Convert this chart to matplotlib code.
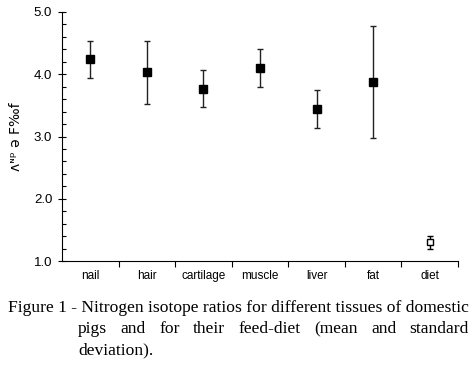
import matplotlib.pyplot as plt
import numpy as np

tissues = ['nail', 'hair', 'cartilage', 'muscle', 'liver', 'fat', 'diet']
means = [4.24, 4.03, 3.77, 4.10, 3.44, 3.88, 1.30]
sds = [0.30, 0.50, 0.30, 0.30, 0.30, 0.90, 0.10]

ylabel = 'ʌᶰᵖ ə F‰f'
caption = ['Figure 1 - Nitrogen isotope ratios for different tissues of domestic',
           'pigs and for their  feed-diet (mean and standard',
           'deviation).']

W, H = 477, 365
fig = plt.figure(figsize=(W / 100, H / 100), dpi=100)
ax = fig.add_axes([62 / W, 1 - 261 / H, 396 / W, 249 / H])

x = np.arange(len(tissues)) + 0.5
m = np.array(means)
s = np.array(sds)

# tissues: filled squares, diet: open square
ax.errorbar(x[:6], m[:6], yerr=s[:6], fmt='s', ms=6, color='black',
            mfc='black', mec='black', ecolor='#222222', elinewidth=1.0,
            capsize=2.5, capthick=1.0)
ax.errorbar(x[6:], m[6:], yerr=s[6:], fmt='s', ms=4.5, color='black',
            mfc='white', mec='black', mew=1.0, ecolor='black',
            elinewidth=1.0, capsize=2.5, capthick=1.0)

ax.set_xlim(0, 7)
ax.set_ylim(1.0, 5.0)
for sp in ['top', 'right']:
    ax.spines[sp].set_visible(False)
ax.spines['left'].set_linewidth(0.8)
ax.spines['bottom'].set_linewidth(0.8)

ax.set_yticks([1.0, 2.0, 3.0, 4.0, 5.0])
ax.set_yticklabels(['1.0', '2.0', '3.0', '4.0', '5.0'],
                   fontsize=9.5, family='Liberation Sans')
ax.set_yticks(np.arange(1.0, 5.01, 0.2), minor=True)
ax.tick_params(axis='y', which='major', direction='inout', length=6, width=0.8, pad=4)
ax.tick_params(axis='y', which='minor', direction='in', length=3, width=0.8)

ax.set_xticks(np.arange(1, 8))
ax.set_xticklabels([])
ax.tick_params(axis='x', which='major', direction='out', length=4, width=0.8)
for xi, t in zip(x, tissues):
    ax.text(xi, -0.035, t, transform=ax.get_xaxis_transform(), ha='center',
            va='top', fontsize=8.5, family='Liberation Sans')

ax.set_ylabel(ylabel, fontsize=10, family='DejaVu Sans', labelpad=8)

# caption in serif
cfs = 12.6
fig.text(8 / W, 1 - 308 / H, caption[0], fontsize=cfs, family='Liberation Serif',
         va='center', ha='left')
# justified second line
words = caption[1].split()
fig.canvas.draw()
r = fig.canvas.get_renderer()
tmp = [fig.text(0, 0, w, fontsize=cfs, family='Liberation Serif') for w in words]
widths = [t.get_window_extent(r).width for t in tmp]
for t in tmp:
    t.remove()
x0, x1 = 78, 469
gap = (x1 - x0 - sum(widths)) / (len(words) - 1)
xp = x0
for w, wd in zip(words, widths):
    fig.text(xp / W, 1 - 329 / H, w, fontsize=cfs, family='Liberation Serif',
             va='center', ha='left')
    xp += wd + gap
fig.text(78 / W, 1 - 350 / H, caption[2], fontsize=cfs, family='Liberation Serif',
         va='center', ha='left')

fig.savefig('out.png', dpi=100)
